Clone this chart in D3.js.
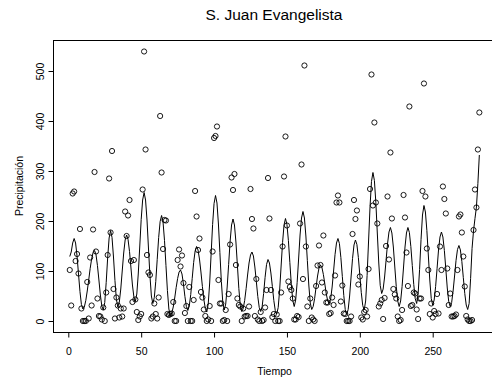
<!DOCTYPE html>
<html><head><meta charset="utf-8">
<script src="https://cdn.jsdelivr.net/npm/d3@7"></script>
<style>
body{margin:0;background:#fff}
svg{display:block}
text{font-family:"Liberation Sans",Arial,Helvetica,sans-serif;fill:#000}
</style>
</head><body><svg id="c" width="492" height="385"></svg>
<script>
const precip = [
102,31,255,259,120,134,95,184,25,0,0,0,
78,5,127,31,183,298,139,45,10,9,3,27,
0,57,132,285,177,340,64,5,47,31,7,25,
9,25,219,170,211,242,120,38,122,43,18,2,
9,14,263,539,343,132,97,92,5,9,35,14,
5,47,410,297,144,202,201,14,12,14,15,38,
0,0,122,143,109,131,76,16,30,0,68,0,
0,42,260,209,142,165,58,47,23,10,0,3,
30,0,139,366,370,389,82,35,35,0,2,22,
0,54,153,287,262,294,112,45,32,29,0,25,
9,10,10,29,264,204,185,10,84,3,0,18,
0,2,27,62,286,205,62,8,14,0,13,0,
0,57,149,289,369,191,79,68,62,45,3,3,
10,8,195,313,84,511,149,29,0,45,7,3,
0,70,111,151,112,77,171,57,37,37,14,16,
47,32,91,237,251,237,39,71,15,14,0,0,
0,9,174,242,204,221,73,89,7,3,18,22,
9,104,264,493,231,397,237,195,29,35,42,4,
46,150,249,123,337,205,64,53,45,9,0,2,
22,252,207,137,70,429,30,32,57,55,23,4,
45,45,260,475,249,145,102,14,35,7,20,14,
54,15,149,102,269,244,215,105,32,55,9,9,
10,13,102,209,213,177,129,69,10,3,0,0,
2,182,263,227,343,417
];
const fitted = [
129,138,156,165,156,130,94,59,33,24,28,41,
60,82,105,124,137,141,133,111,82,52,30,22,
37,77,126,166,181,167,128,81,43,28,38,64,
100,136,162,172,163,139,106,72,48,39,54,94,
148,203,242,257,242,202,146,91,50,35,47,79,
123,167,199,211,198,161,111,61,24,11,16,28,
46,67,85,98,102,94,74,49,29,21,30,53,
85,117,140,149,142,124,98,69,43,25,18,34,
76,135,193,235,251,236,194,137,79,37,22,34,
68,113,159,192,204,192,158,112,65,31,19,25,
41,65,92,116,132,138,130,108,79,49,27,19,
29,55,87,113,123,116,96,69,41,21,14,27,
62,110,157,192,205,193,161,117,73,41,29,42,
77,124,172,206,219,206,170,121,72,36,23,29,
45,68,90,106,112,107,93,74,54,40,35,44,
68,100,133,156,165,155,127,89,51,23,13,23,
50,88,125,152,162,153,127,92,57,31,22,40,
91,160,228,279,297,281,237,176,116,71,55,64,
88,121,154,178,187,176,148,108,69,40,29,40,
69,108,148,176,187,177,149,111,73,45,35,54,
103,163,212,231,218,181,132,82,45,32,42,69,
105,142,168,178,168,141,104,66,39,29,37,60,
90,121,143,151,142,119,87,55,32,23,35,85,
145,180,205,228,275,332
];
const xTicks = [0,50,100,150,200,250];
const yTicks = [0,100,200,300,400,500];
const titleText = "S. Juan Evangelista";
const xLabel = "Tiempo";
const yLabel = "Precipitación";

const svg = d3.select("#c");
const x = d3.scaleLinear().domain([0,250]).range([68.3,432.7]);
const y = d3.scaleLinear().domain([0,500]).range([321,71]);
const box = {l:53.5, t:40.5, r:496, b:332.5};

// frame
svg.append("rect").attr("x",box.l).attr("y",box.t)
  .attr("width",box.r-box.l).attr("height",box.b-box.t)
  .attr("fill","none").attr("stroke","#000").attr("stroke-width",1);

// x axis
const gx = svg.append("g").attr("transform",`translate(0,${box.b})`)
  .call(d3.axisBottom(x).tickValues(xTicks).tickSize(5).tickFormat(d3.format("d")));
gx.select(".domain").remove();
gx.selectAll(".tick line").attr("stroke","#000");
gx.selectAll(".tick text").attr("y",22).attr("dy",0).attr("font-size",10.5)
  .attr("font-family","Liberation Sans, Arial, sans-serif").attr("fill","#000");

// y axis
const gy = svg.append("g").attr("transform",`translate(${box.l},0)`)
  .call(d3.axisLeft(y).tickValues(yTicks).tickSize(5).tickFormat(d3.format("d")));
gy.select(".domain").remove();
gy.selectAll(".tick line").attr("stroke","#000");
gy.selectAll(".tick text").attr("x",0).attr("y",0).attr("dy",0)
  .attr("transform","translate(-9.5,0) rotate(-90)")
  .attr("text-anchor","middle").attr("font-size",10.5)
  .attr("font-family","Liberation Sans, Arial, sans-serif").attr("fill","#000");

// fitted line
const line = d3.line().x((d,i)=>x(i+1)).y(d=>y(d));
svg.append("path").datum(fitted).attr("d",line)
  .attr("fill","none").attr("stroke","#000").attr("stroke-width",1);

// points
svg.append("g").selectAll("circle").data(precip).join("circle")
  .attr("cx",(d,i)=>x(i+1)).attr("cy",d=>y(d)).attr("r",2.6)
  .attr("fill","none").attr("stroke","#000").attr("stroke-width",0.9);

// titles
svg.append("text").attr("x",274).attr("y",20).attr("text-anchor","middle")
  .attr("font-size",15.5).text(titleText);
svg.append("text").attr("x",274.5).attr("y",375).attr("text-anchor","middle")
  .attr("font-size",10.5).text(xLabel);
svg.append("text").attr("transform","translate(23,186) rotate(-90)")
  .attr("text-anchor","middle").attr("font-size",10.5).text(yLabel);
</script>
</body></html>
